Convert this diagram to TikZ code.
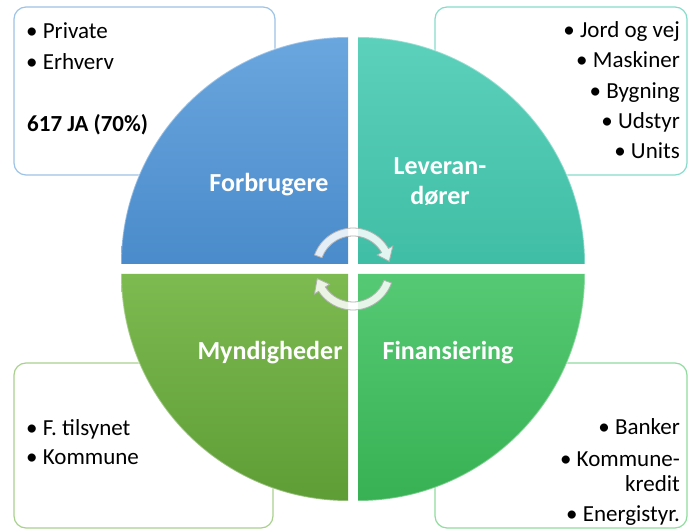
\documentclass[tikz,border=0pt]{standalone}
\usepackage{fontspec}
\setmainfont{Carlito}
\usetikzlibrary{positioning}
\definecolor{blueTop}{HTML}{6AA6DE}
\definecolor{blueBot}{HTML}{4A8BCB}
\definecolor{tealTop}{HTML}{5CD0BB}
\definecolor{tealBot}{HTML}{40BEA5}
\definecolor{grnTop}{HTML}{7DBB51}
\definecolor{grnBot}{HTML}{5E9C35}
\definecolor{finTop}{HTML}{56C974}
\definecolor{finBot}{HTML}{37B153}
\definecolor{lineBlue}{HTML}{9DC3E6}
\definecolor{lineTeal}{HTML}{86DCCB}
\definecolor{lineGrn}{HTML}{A9D18E}
\definecolor{lineFin}{HTML}{8FDC9E}
\tikzset{
  box/.style={rounded corners=12pt, line width=1.2pt, fill=white},
  rim/.style={line width=1.6pt, white, opacity=0.35},
  item/.style={font=\fontsize{23}{28}\selectfont, inner sep=0pt},
  head/.style={font=\fontsize{26}{30}\selectfont\bfseries, text=white, inner sep=0pt, anchor=base},
  turn/.style={fill=white, fill opacity=0.85, draw=gray!60, line width=0.8pt}
}
\begin{document}
\begin{tikzpicture}[x=1pt, y=1pt]
    \useasboundingbox (0,0) rectangle (688,529);
    % boxes behind the circle
    \draw [box, draw=lineBlue] (14,354) rectangle (275,522);
    \draw [box, draw=lineTeal] (435,354) rectangle (687,522);
    \draw [box, draw=lineGrn] (14,1) rectangle (273,166);
    \draw [box, draw=lineFin] (435,1) rectangle (687,166);
    % circle in four parts
    \coordinate (c) at (353,260);
    \coordinate (tl) at ([shift={(-5,5)}]c);
    \coordinate (tr) at ([shift={(5,5)}]c);
    \coordinate (bl) at ([shift={(-5,-5)}]c);
    \coordinate (br) at ([shift={(5,-5)}]c);
    \shade [top color=blueTop, bottom color=blueBot]
    (tl) -- ++(-227,0) arc[start angle=180, end angle=90, radius=227pt] -- cycle;
    \shade [top color=tealTop, bottom color=tealBot]
    (tr) -- ++(0,227) arc[start angle=90, end angle=0, radius=227pt] -- cycle;
    \shade [top color=finTop, bottom color=finBot]
    (br) -- ++(227,0) arc[start angle=0, end angle=-90, radius=227pt] -- cycle;
    \shade [top color=grnTop, bottom color=grnBot]
    (bl) -- ++(0,-227) arc[start angle=270, end angle=180, radius=227pt] -- cycle;
    \draw [rim] (tl) ++(-227,0) arc[start angle=180, end angle=90, radius=227pt];
    \draw [rim] (tr) ++(0,227) arc[start angle=90, end angle=0, radius=227pt];
    \draw [rim] (br) ++(227,0) arc[start angle=0, end angle=-90, radius=227pt];
    \draw [rim] (bl) ++(0,-227) arc[start angle=270, end angle=180, radius=227pt];
    % turning arrows
    \begin{scope}[shift={(c)}]
      \draw [turn] (160:41pt) arc[start angle=160, end angle=30, radius=41pt]
      -- (30:46pt) -- (12:37pt) -- (30:28pt) -- (30:33pt)
      arc[start angle=30, end angle=160, radius=33pt] -- cycle;
      \draw [turn] (-20:41pt) arc[start angle=-20, end angle=-147, radius=41pt]
      -- (-147:46pt) -- (-165:37pt) -- (-147:28pt) -- (-147:33pt)
      arc[start angle=-147, end angle=-20, radius=33pt] -- cycle;
    \end{scope}
    % labels of the four parts
    \node [head] (forb) at (269,337) {Forbrugere};
    \node [head] (lev1) at (440,354) {Leveran-};
    \node [head] (lev2) at (440,324) {dører};
    \node [head] (mynd) at (270,169) {Myndigheder};
    \node [head] (fin) at (448,169) {Finansiering};
    % texts in the boxes
    \node [item, anchor=base west] (priv) at (26,490) {•\ Private};
    \node [item, anchor=base west] (erhv) at (26,459) {•\ Erhverv};
    \node [item, anchor=base west, font=\fontsize{23}{28}\selectfont\bfseries] (ja) at (27,397) {617 JA (70\%)};
    \node [item, anchor=base east] (jord) at (680,491) {•\ Jord og vej};
    \node [item, anchor=base east] (mask) at (680,461) {•\ Maskiner};
    \node [item, anchor=base east] (bygn) at (680,430) {•\ Bygning};
    \node [item, anchor=base east] (udst) at (680,400) {•\ Udstyr};
    \node [item, anchor=base east] (unit) at (680,370) {•\ Units};
    \node [item, anchor=base west] (tils) at (26,93) {•\ F. tilsynet};
    \node [item, anchor=base west] (komm) at (26,64) {•\ Kommune};
    \node [item, anchor=base east] (bank) at (680,94) {•\ Banker};
    \node [item, anchor=base east] (kred1) at (680,62) {•\ Kommune-};
    \node [item, anchor=base east] (kred2) at (680,37) {kredit};
    \node [item, anchor=base east] (ener) at (680,7) {•\ Energistyr.};
\end{tikzpicture}
\end{document}
